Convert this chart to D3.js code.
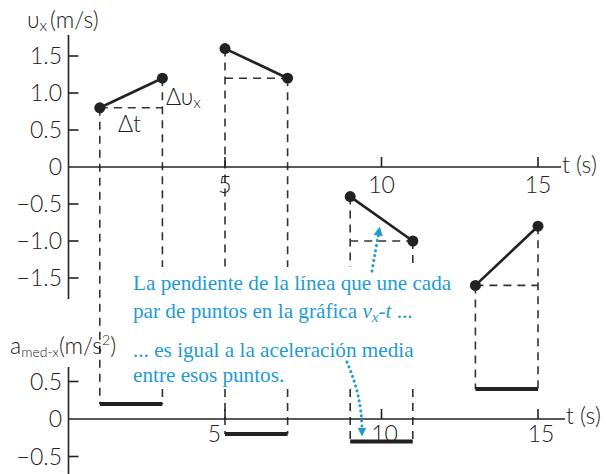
<!DOCTYPE html>
<html><head><meta charset="utf-8">
<script src="https://cdn.jsdelivr.net/npm/d3@7"></script>
<style>
body{margin:0;background:#fff;}
.hw{font-family:Lato,"DejaVu Sans",sans-serif;font-weight:300;fill:#222;}
.note{font-family:"Liberation Serif","Times New Roman",serif;fill:#1f9bd4;}
</style></head>
<body><svg id="c" width="606" height="474"></svg>
<script>
// ---- data ----
const tStart = [1, 5, 9, 13];
const tEnd   = [3, 7, 11, 15];
const vStart = [0.8, 1.6, -0.4, -1.6];
const vEnd   = [1.2, 1.2, -1.0, -0.8];
const aMed   = [0.2, -0.2, -0.3, 0.4];
const vTicks = [-1.5, -1.0, -0.5, 0, 0.5, 1.0, 1.5];
const vTickLabels = ["\u22121.5", "\u22121.0", "\u22120.5", "0", "0.5", "1.0", "1.5"];
const aTicks = [-0.5, 0, 0.5];
const aTickLabels = ["\u22120.5", "0", "0.5"];
const tTicks = [5, 10, 15];
const tTickLabels = ["5", "10", "15"];
const note1 = ["La pendiente de la línea que une cada"];
const note2 = ["... es igual a la aceleración media", "entre esos puntos."];

const svg = d3.select("#c");
const x = d3.scaleLinear().domain([0, 15]).range([68.5, 538]);
const yV = d3.scaleLinear().domain([0, 1.5]).range([167, 56]);
const yA = d3.scaleLinear().domain([0, 0.5]).range([419, 381.5]);
const ink = "#222", dash = "#333";

// gaps in the long dashed verticals where the notes sit
const textLeft = 128, textRight = 458;
const gapTop = yV(-1.35), gapBottom = yA(0.4);

const segs = tStart.map((d, i) => ({t1: d, t2: tEnd[i], v1: vStart[i], v2: vEnd[i], a: aMed[i]}));

const gDash = svg.append("g").attr("stroke", dash).attr("stroke-width", 1.6)
  .attr("stroke-dasharray", "8,6").attr("fill", "none");
segs.forEach(s => {
  const vLow = Math.min(s.v1, s.v2);
  gDash.append("line").attr("x1", x(s.t1)).attr("x2", x(s.t2)).attr("y1", yV(vLow)).attr("y2", yV(vLow));
  [[s.t1, s.v1], [s.t2, s.v2]].forEach(([t, v]) => {
    const px = x(t);
    const yEnd = yA(s.a);
    if (px > textLeft && px < textRight) {
      gDash.append("line").attr("x1", px).attr("x2", px).attr("y1", yV(v)).attr("y2", gapTop);
      gDash.append("line").attr("x1", px).attr("x2", px).attr("y1", gapBottom).attr("y2", yEnd);
    } else {
      gDash.append("line").attr("x1", px).attr("x2", px).attr("y1", yV(v)).attr("y2", yEnd);
    }
  });
});

// ---- axes (top) ----
const gAx = svg.append("g").attr("stroke", ink).attr("stroke-width", 1.6);
gAx.append("line").attr("x1", x(0)).attr("x2", x(0)).attr("y1", 35).attr("y2", 299);
gAx.append("line").attr("x1", x(0)).attr("x2", 561).attr("y1", yV(0)).attr("y2", yV(0));
vTicks.filter(d => d !== 0).forEach(d =>
  gAx.append("line").attr("x1", x(0)).attr("x2", x(0) + 10).attr("y1", yV(d)).attr("y2", yV(d)));
tTicks.forEach(d =>
  gAx.append("line").attr("x1", x(d)).attr("x2", x(d)).attr("y1", yV(0)).attr("y2", yV(0) - 10));
// ---- axes (bottom) ----
gAx.append("line").attr("x1", x(0)).attr("x2", x(0)).attr("y1", 367).attr("y2", 474);
gAx.append("line").attr("x1", x(0)).attr("x2", 565).attr("y1", yA(0)).attr("y2", yA(0));
aTicks.filter(d => d !== 0).forEach(d =>
  gAx.append("line").attr("x1", x(0)).attr("x2", x(0) + 10).attr("y1", yA(d)).attr("y2", yA(d)));
tTicks.forEach(d =>
  gAx.append("line").attr("x1", x(d)).attr("x2", x(d)).attr("y1", yA(0)).attr("y2", yA(0) - 10));

// tick labels
const fs = 23;
vTicks.forEach((d, i) => svg.append("text").attr("class", "hw").attr("font-size", fs)
  .attr("text-anchor", "end").attr("x", 62).attr("y", yV(d)).attr("dy", "0.36em").text(vTickLabels[i]));
aTicks.forEach((d, i) => svg.append("text").attr("class", "hw").attr("font-size", fs)
  .attr("text-anchor", "end").attr("x", 62).attr("y", yA(d)).attr("dy", "0.36em").text(aTickLabels[i]));
tTicks.forEach((d, i) => svg.append("text").attr("class", "hw").attr("font-size", fs)
  .attr("text-anchor", "middle").attr("x", x(d)).attr("y", yV(0) + 26).text(tTickLabels[i]));
tTicks.forEach((d, i) => {
  const first = i === 0;
  svg.append("text").attr("class", "hw").attr("font-size", fs)
    .attr("text-anchor", first ? "end" : "middle")
    .attr("x", first ? x(d) - 4 : x(d) + 3).attr("y", yA(0) + 23).text(tTickLabels[i]);
});

// axis titles
const tv = svg.append("text").attr("class", "hw").attr("font-size", 23).attr("x", 27).attr("y", 28);
tv.append("tspan").text("\u03c5");
tv.append("tspan").attr("font-size", 16).attr("dy", 3).text("x");
tv.append("tspan").attr("dy", -3).attr("dx", 3).text("(m/s)");
const ta = svg.append("text").attr("class", "hw").attr("font-size", 23).attr("x", 10).attr("y", 354);
ta.append("tspan").text("a");
ta.append("tspan").attr("font-size", 14).attr("dy", 3).text("med-x");
ta.append("tspan").attr("dy", -3).text("(m/s");
ta.append("tspan").attr("font-size", 14).attr("dy", -9).text("2");
ta.append("tspan").attr("dy", 9).text(")");
svg.append("text").attr("class", "hw").attr("font-size", 23).attr("x", 562).attr("y", yV(0) + 6).text("t (s)");
svg.append("text").attr("class", "hw").attr("font-size", 23).attr("x", 566).attr("y", yA(0) + 5).text("t (s)");
svg.append("text").attr("class", "hw").attr("font-size", 23).attr("x", 118).attr("y", 132).text("\u0394t");
const dv = svg.append("text").attr("class", "hw").attr("font-size", 23).attr("x", 166).attr("y", 105);
dv.append("tspan").text("\u0394\u03c5");
dv.append("tspan").attr("font-size", 16).attr("dy", 3).text("x");

// ---- segments & points ----
const gSeg = svg.append("g");
segs.forEach(s => {
  gSeg.append("line").attr("x1", x(s.t1)).attr("y1", yV(s.v1)).attr("x2", x(s.t2)).attr("y2", yV(s.v2))
    .attr("stroke", ink).attr("stroke-width", 2.6);
  gSeg.append("line").attr("x1", x(s.t1)).attr("y1", yA(s.a)).attr("x2", x(s.t2)).attr("y2", yA(s.a))
    .attr("stroke", ink).attr("stroke-width", 4);
  [[s.t1, s.v1], [s.t2, s.v2]].forEach(([t, v]) =>
    gSeg.append("circle").attr("cx", x(t)).attr("cy", yV(v)).attr("r", 5.5).attr("fill", ink));
});

// ---- notes ----
const blue = "#1f9bd4";
const nfs = 21.2;
svg.append("text").attr("class", "note").attr("font-size", nfs).attr("x", 133).attr("y", 290).text(note1[0]);
const n2 = svg.append("text").attr("class", "note").attr("font-size", nfs).attr("x", 133).attr("y", 318);
n2.append("tspan").text("par de puntos en la gráfica ");
n2.append("tspan").attr("font-style", "italic").text("v");
n2.append("tspan").attr("font-style", "italic").attr("font-size", 15).attr("dy", 4).text("x");
n2.append("tspan").attr("dy", -4).attr("font-style", "italic").text("-t");
n2.append("tspan").text(" ...");
note2.forEach((s, i) => svg.append("text").attr("class", "note").attr("font-size", nfs)
  .attr("x", 133).attr("y", 357 + i * 25).text(s));

// dotted arrows
const defs = svg.append("defs");
defs.append("marker").attr("id", "ah").attr("viewBox", "0 0 10 10").attr("refX", 5).attr("refY", 5)
  .attr("markerWidth", 9).attr("markerHeight", 9).attr("markerUnits", "userSpaceOnUse").attr("orient", "auto")
  .append("path").attr("d", "M0,0 L10,5 L0,10 Z").attr("fill", blue);
svg.append("path").attr("d", "M372,271 Q376,248 379,231").attr("fill", "none").attr("stroke", blue)
  .attr("stroke-width", 3).attr("stroke-linecap", "round").attr("stroke-dasharray", "0.1,5")
  .attr("marker-end", "url(#ah)");
svg.append("path").attr("d", "M347,362 C356,384 362,404 362,432").attr("fill", "none").attr("stroke", blue)
  .attr("stroke-width", 3).attr("stroke-linecap", "round").attr("stroke-dasharray", "0.1,5")
  .attr("marker-end", "url(#ah)");
</script></body></html>
